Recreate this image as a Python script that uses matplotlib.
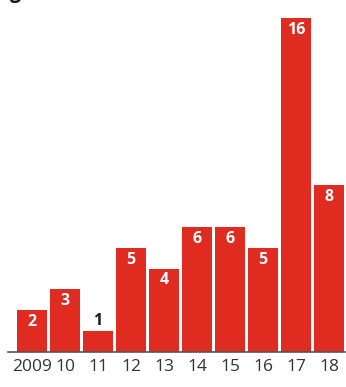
import matplotlib
matplotlib.use("Agg")
import matplotlib.pyplot as plt

years = ["2009", "10", "11", "12", "13", "14", "15", "16", "17", "18"]
values = [2, 3, 1, 5, 4, 6, 6, 5, 16, 8]

RED = "#e02b20"
W, H = 346, 387
fig = plt.figure(figsize=(W / 100, H / 100), dpi=100)
plt.rcParams['font.family'] = ['Open Sans', 'DejaVu Sans']

ax = fig.add_axes([8 / W, 35 / H, 337 / W, 334 / H])
x = list(range(len(values)))
ax.bar(x, values, width=30 / 33, color=RED, zorder=2)
ax.set_xlim(-0.727, 9.485)
ax.set_ylim(0, 16)

px = 16 / 334.0  # data units per pixel
for xi, v in zip(x, values):
    if v >= 2:
        ax.text(xi, v - 12 * px, str(v), ha="center", va="center", color="white",
                fontsize=11.5, fontweight="bold")
    else:
        ax.text(xi, v + 10 * px, str(v), ha="center", va="center", color="#1a1a1a",
                fontsize=11.5, fontweight="bold")

for s in ["top", "right", "left"]:
    ax.spines[s].set_visible(False)
ax.spines["bottom"].set_color("#555555")
ax.spines["bottom"].set_linewidth(1.2)
ax.set_yticks([])
ax.set_xticks(x)
ax.set_xticklabels(years, fontsize=12.5, color="#333333")
ax.tick_params(axis="x", length=0, pad=5)

# partially visible title glyph at the very top
fig.text(10 / W, 1 + 2 / H, "g", fontsize=14, fontweight="bold", color="#1a1a1a",
         ha="left", va="baseline")

fig.savefig("out.png", dpi=100)
